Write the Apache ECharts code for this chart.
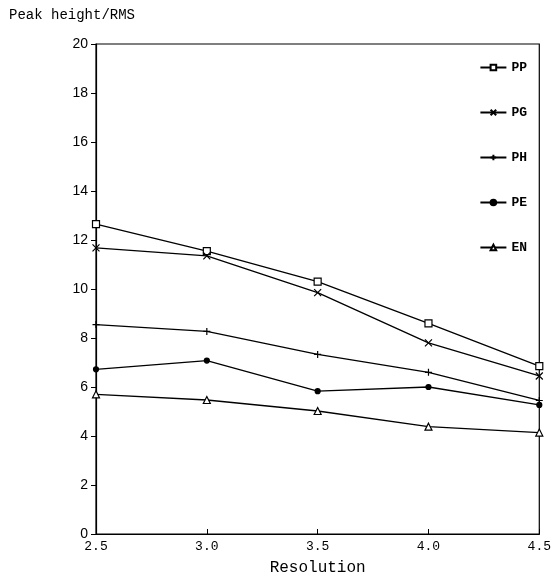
<!DOCTYPE html>
<html>
<head>
<meta charset="utf-8">
<script src="https://cdn.jsdelivr.net/npm/echarts@6/dist/echarts.min.js"></script>
<style>
  html, body { margin: 0; padding: 0; background: #fff; }
  #main { width: 554px; height: 581px; }
</style>
</head>
<body>
<div id="main"></div>
<script>
// values
var resolution = [2.5, 3.0, 3.5, 4.0, 4.5]
var pp = [12.65, 11.55, 10.3, 8.6, 6.85]
var pg = [11.68, 11.35, 9.85, 7.8, 6.45]
var ph = [8.55, 8.27, 7.33, 6.6, 5.45]
var pe = [6.72, 7.08, 5.83, 6.0, 5.27]
var en = [5.7, 5.47, 5.02, 4.38, 4.14]
var yTicks = [0, 2, 4, 6, 8, 10, 12, 14, 16, 18, 20]

var myChart = echarts.init(document.getElementById('main'))

var mono = '"Liberation Mono", "DejaVu Sans Mono", monospace'
var crossPath = 'path://M0,0L10,10M10,0L0,10'
var plusPath = 'path://M5,0L5,10M0,5L10,5'

function pairs(vals) {
    return resolution.map(function (x, i) { return [x, vals[i]] })
}

function line(name, vals, symbol, size, fill) {
    return {
        name: name,
        type: 'line',
        data: pairs(vals),
        symbol: symbol,
        symbolSize: size,
        showAllSymbol: true,
        lineStyle: { color: '#000', width: 1.3 },
        itemStyle: { color: fill, borderColor: '#000', borderWidth: 1.2 },
        emphasis: { disabled: true }
    }
}

myChart.setOption({
    animation: false,
    title: {
        text: 'Peak height/RMS',
        left: 4,
        top: 3,
        textStyle: { fontFamily: mono, fontSize: 14, fontWeight: 'normal', color: '#000' }
    },
    legend: {
        orient: 'vertical',
        right: 22,
        top: 56,
        itemWidth: 26,
        itemHeight: 7,
        itemGap: 32,
        textStyle: { fontFamily: mono, fontSize: 13, fontWeight: 'bold', color: '#000' },
        data: ['PP', 'PG', 'PH', 'PE', 'EN']
    },
    grid: {
        left: 96,
        right: 14,
        top: 44,
        bottom: 47,
        show: true,
        borderColor: '#000',
        borderWidth: 1.2
    },
    xAxis: {
        type: 'value',
        min: 2.5,
        max: 4.5,
        interval: 0.5,
        name: 'Resolution',
        nameLocation: 'middle',
        nameGap: 26,
        nameTextStyle: { fontFamily: mono, fontSize: 16, color: '#000' },
        axisLine: { lineStyle: { color: '#000', width: 1.2 } },
        axisTick: { inside: true, length: 5, lineStyle: { color: '#000' } },
        axisLabel: {
            fontFamily: mono, fontSize: 13, color: '#000', margin: 6,
            formatter: function (v) { return v.toFixed(1) }
        },
        splitLine: { show: false }
    },
    yAxis: {
        type: 'value',
        min: yTicks[0],
        max: yTicks[yTicks.length - 1],
        interval: 2,
        axisLine: { show: true, lineStyle: { color: '#000', width: 1.2 } },
        axisTick: { show: true, length: 5, lineStyle: { color: '#000' } },
        axisLabel: { fontFamily: '"Liberation Sans", Arial, sans-serif', fontSize: 14, color: '#000', margin: 8 },
        splitLine: { show: false }
    },
    series: [
        line('PP', pp, 'rect', 7, '#fff'),
        line('PG', pg, crossPath, 7, '#000'),
        line('PH', ph, plusPath, 7, '#000'),
        line('PE', pe, 'circle', 5, '#000'),
        line('EN', en, 'triangle', 7, '#fff')
    ]
})
</script>
</body>
</html>
